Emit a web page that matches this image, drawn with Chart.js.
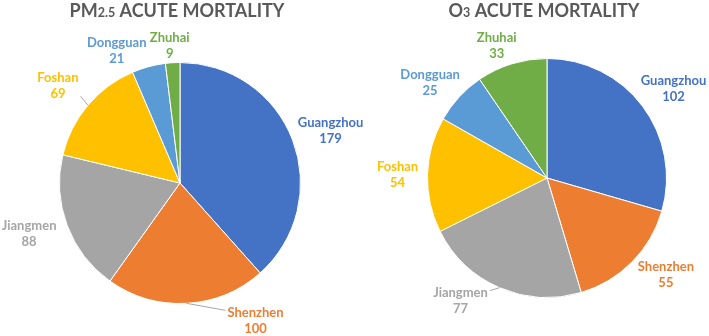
<!DOCTYPE html>
<html>
<head>
<meta charset="utf-8">
<script src="https://cdn.jsdelivr.net/npm/chart.js@4"></script>
<style>
  html, body { margin: 0; padding: 0; background: #fff; }
  #wrap { position: relative; width: 709px; height: 336px; overflow: hidden; }
  #pmChart { position: absolute; left: 0; top: 0; }
  #o3Chart { position: absolute; left: 354px; top: 0; }
</style>
</head>
<body>
<div id="wrap">
  <canvas id="pmChart" width="380" height="336"></canvas>
  <canvas id="o3Chart" width="355" height="336"></canvas>
</div>
<script>
// --- Data ---
const cities = ['Guangzhou', 'Shenzhen', 'Jiangmen', 'Foshan', 'Dongguan', 'Zhuhai'];
const pm25Deaths = [179, 100, 88, 69, 21, 9];
const o3Deaths = [102, 55, 77, 54, 25, 33];

// --- Styling ---
const cityColors = ['#4472C4', '#ED7D31', '#A5A5A5', '#FFC000', '#5B9BD5', '#70AD47'];
const FONT = 'Lato, "Open Sans", sans-serif';

// label nudges from the outer middle of each slice (px)
const pmLabelShift = [[38, -9], [69, 17], [-38, 9], [-30, -19], [-32, -16], [-3, -17]];
const o3LabelShift = [[31, -17], [34, 13], [-39, 13], [-30, 0], [-29, -14], [-15, -18]];

// Excel style data labels + title with subscript
const pieDecor = {
    id: 'pieDecor',
    afterDraw(chart, args, opts) {
        const ctx = chart.ctx;
        const meta = chart.getDatasetMeta(0);
        const values = chart.data.datasets[0].data;

        // title
        ctx.save();
        ctx.fillStyle = '#595959';
        ctx.textBaseline = 'alphabetic';
        ctx.textAlign = 'left';
        let total = 0;
        opts.title.forEach(p => {
            ctx.font = 'bold ' + p[1] + 'px ' + FONT;
            total += ctx.measureText(p[0]).width;
        });
        let tx = (chart.chartArea.left + chart.chartArea.right) / 2 + opts.titleDx - total / 2;
        opts.title.forEach(p => {
            ctx.font = 'bold ' + p[1] + 'px ' + FONT;
            ctx.fillText(p[0], tx, 17);
            tx += ctx.measureText(p[0]).width;
        });

        // labels
        ctx.font = 'bold 13px ' + FONT;
        ctx.textAlign = 'center';
        ctx.textBaseline = 'middle';
        meta.data.forEach((arc, i) => {
            const mid = (arc.startAngle + arc.endAngle) / 2;
            const ax = arc.x + Math.cos(mid) * arc.outerRadius;
            const ay = arc.y + Math.sin(mid) * arc.outerRadius;
            const lx = ax + opts.shift[i][0];
            const ly = ay + opts.shift[i][1];
            const name = chart.data.labels[i];
            const val = String(values[i]);
            const w = Math.max(ctx.measureText(name).width, ctx.measureText(val).width);
            const box = { l: lx - w / 2 - 2, r: lx + w / 2 + 2, t: ly - 16, b: ly + 16 };

            // leader line
            let ex, ey;
            if (ax < box.l || ax > box.r) {
                ex = ax < box.l ? box.l : box.r;
                ey = Math.min(Math.max(ay, box.t + 6), box.b - 6);
            } else {
                ex = ax;
                ey = ay < box.t ? box.t : box.b;
            }
            if (Math.hypot(ex - ax, ey - ay) > 9) {
                ctx.strokeStyle = '#A6A6A6';
                ctx.lineWidth = 1;
                ctx.beginPath();
                ctx.moveTo(ax, ay);
                ctx.lineTo(ex, ey);
                ctx.stroke();
            }

            ctx.fillStyle = cityColors[i];
            ctx.fillText(name, lx, ly - 8);
            ctx.fillText(val, lx, ly + 8);
        });
        ctx.restore();
    }
};

function makePie(id, values, shift, title, titleDx, padding) {
    return new Chart(document.getElementById(id), {
        type: 'pie',
        data: {
            labels: cities,
            datasets: [{
                data: values,
                backgroundColor: cityColors,
                borderColor: '#ffffff',
                borderWidth: 1
            }]
        },
        options: {
            responsive: false,
            animation: false,
            devicePixelRatio: 1,
            layout: { padding: padding },
            plugins: {
                legend: { display: false },
                tooltip: { enabled: false },
                pieDecor: { shift: shift, title: title, titleDx: titleDx }
            }
        },
        plugins: [pieDecor]
    });
}

makePie('pmChart', pm25Deaths, pmLabelShift,
    [['PM', 18], ['2.5', 12.5], [' ACUTE MORTALITY', 18]], -3,
    { left: 59, right: 79, top: 62, bottom: 32 });

makePie('o3Chart', o3Deaths, o3LabelShift,
    [['O', 18], ['3', 12.5], [' ACUTE MORTALITY', 18]], -3,
    { left: 73, right: 42, top: 58, bottom: 38 });
</script>
</body>
</html>
